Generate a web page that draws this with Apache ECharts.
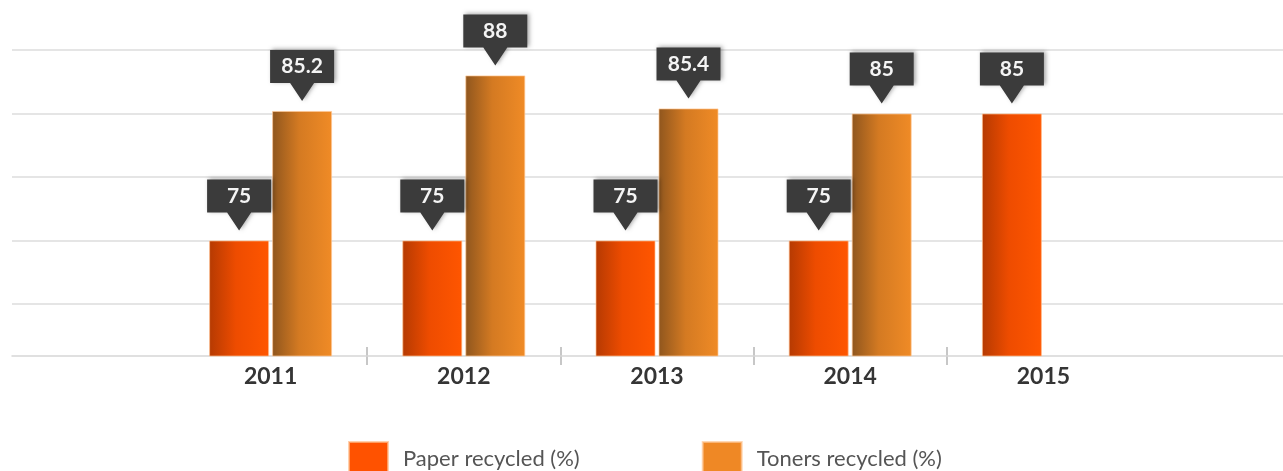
<!DOCTYPE html>
<html>
<head>
<meta charset="utf-8">
<script src="https://cdn.jsdelivr.net/npm/echarts@6/dist/echarts.min.js"></script>
<style>
  html, body { margin: 0; padding: 0; background: #fff; }
  #chart { width: 1283px; height: 471px; }
</style>
</head>
<body>
<div id="chart"></div>
<script>
/* recycling bars */
var years = ['2011', '2012', '2013', '2014', '2015'];
var paperData = [75, 75, 75, 75, 85];
var tonerData = [85.2, 88, 85.4, 85, null];
var gridValues = [70, 75, 80, 85, 90];

var calloutPath = 'path://M0,0H64V33H44L32,51L20,33H0Z';

function callouts(values) {
  var pts = [];
  values.forEach(function (v, i) {
    if (v == null) return;
    pts.push({ coord: [i, v], value: v });
  });
  return {
    symbol: calloutPath,
    symbolSize: [64, 51],
    symbolOffset: [0, -35.5],
    silent: true,
    itemStyle: {
      color: '#3b3b3b',
      shadowColor: 'rgba(0,0,0,0.35)',
      shadowBlur: 4,
      shadowOffsetX: 2,
      shadowOffsetY: -1
    },
    label: {
      show: true,
      position: 'inside',
      offset: [0, -9],
      color: '#f4f4f4',
      fontFamily: 'Lato',
      fontWeight: 'bold',
      fontSize: 21
    },
    data: pts
  };
}

var option = {
  animation: false,
  grid: [
    { left: 12, right: 0, top: 50, bottom: 167 },
    { left: 174, right: 143, top: 50, bottom: 115 },
    { left: 174, right: 143, top: 347, height: 18 }
  ],
  xAxis: [
    {
      gridIndex: 0, type: 'value', min: 0, max: 1, offset: 52,
      axisLine: { show: true, onZero: false, lineStyle: { color: '#d6d6d6', width: 1.5 } },
      axisTick: { show: false }, axisLabel: { show: false }, splitLine: { show: false }
    },
    {
      gridIndex: 1, type: 'category', data: years,
      axisLine: { show: false }, axisTick: { show: false },
      axisLabel: {
        margin: 9, color: '#353535', fontFamily: 'Lato',
        fontWeight: 'bold', fontSize: 23
      }
    },
    {
      gridIndex: 2, type: 'category', data: years,
      axisLine: { show: false }, axisTick: { show: false }, axisLabel: { show: false },
      splitLine: {
        show: true, showMinLine: false, showMaxLine: false,
        lineStyle: { color: '#b5b5b5', width: 1.5 }
      }
    }
  ],
  yAxis: [
    {
      gridIndex: 0, type: 'value', min: 70, max: 90, interval: 5,
      axisLine: { show: false }, axisTick: { show: false }, axisLabel: { show: false },
      splitLine: { lineStyle: { color: '#dcdcdc', width: 1.5 } }
    },
    {
      gridIndex: 1, type: 'value', min: 65.9, max: 90,
      axisLine: { show: false }, axisTick: { show: false }, axisLabel: { show: false },
      splitLine: { show: false }
    },
    {
      gridIndex: 2, type: 'value', show: false, splitLine: { show: false }
    }
  ],
  legend: {
    left: 348, top: 441, padding: 0,
    itemWidth: 39, itemHeight: 34, itemGap: 122,
    icon: 'rect',
    textStyle: { color: '#555', fontFamily: 'Lato', fontSize: 22, padding: [0, 0, 0, 10] },
    data: [
      { name: 'Paper recycled (%)', itemStyle: { color: '#ff5200' } },
      { name: 'Toners recycled (%)', itemStyle: { color: '#ef8825' } }
    ]
  },
  series: [
    {
      name: 'Paper recycled (%)',
      type: 'bar',
      xAxisIndex: 1, yAxisIndex: 1,
      barWidth: 60, barGap: '5%',
      data: paperData,
      itemStyle: {
        borderColor: 'rgba(255,190,140,0.7)', borderWidth: 1,
        color: new echarts.graphic.LinearGradient(0, 0, 1, 0, [
          { offset: 0, color: '#b53a02' },
          { offset: 0.45, color: '#ee4c00' },
          { offset: 1, color: '#ff5600' }
        ])
      },
      markPoint: callouts(paperData)
    },
    {
      name: 'Toners recycled (%)',
      type: 'bar',
      xAxisIndex: 1, yAxisIndex: 1,
      barWidth: 60, barGap: '5%',
      data: tonerData,
      itemStyle: {
        borderColor: 'rgba(255,200,150,0.7)', borderWidth: 1,
        color: new echarts.graphic.LinearGradient(0, 0, 1, 0, [
          { offset: 0, color: '#8f561e' },
          { offset: 0.45, color: '#d47a22' },
          { offset: 1, color: '#f08b26' }
        ])
      },
      markPoint: callouts(tonerData)
    }
  ]
};

var chart = echarts.init(document.getElementById('chart'));
chart.setOption(option);
</script>
</body>
</html>
